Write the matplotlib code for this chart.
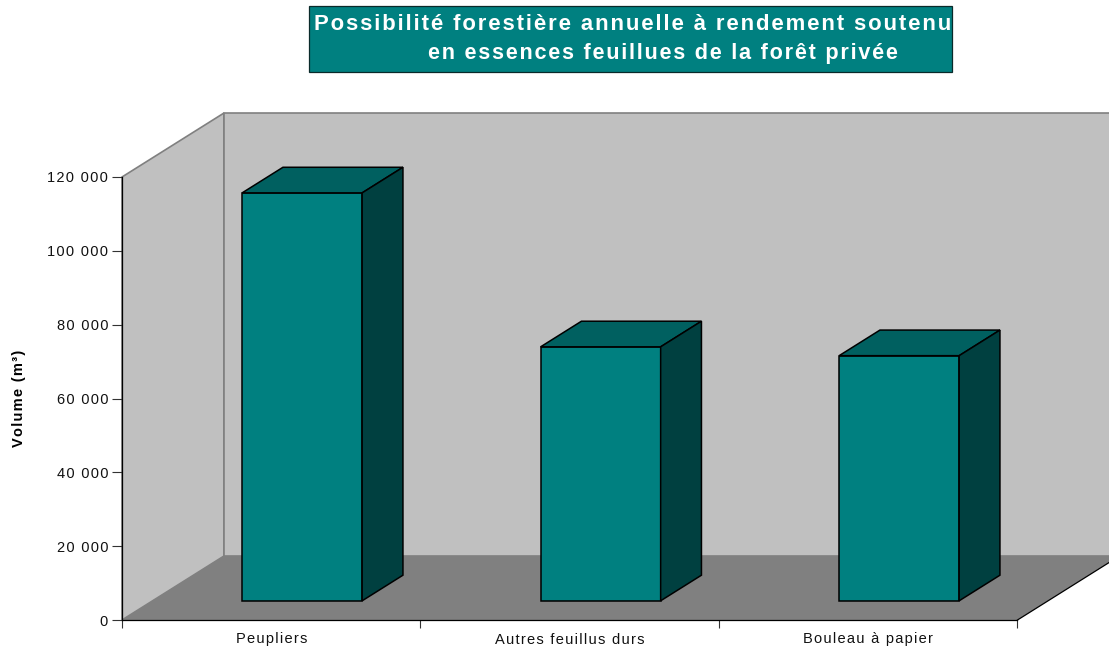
import matplotlib
matplotlib.use('Agg')
import matplotlib.pyplot as plt
from matplotlib.patches import Polygon, Rectangle

plt.rcParams['font.family'] = ['Liberation Sans', 'DejaVu Sans']

categories = ['Peupliers', 'Autres feuillus durs', 'Bouleau à papier']
volumes = [110500, 68800, 66400]
y_ticks = [0, 20000, 40000, 60000, 80000, 100000, 120000]
y_labels = ['0', '20 000', '40 000', '60 000', '80 000', '100 000', '120 000']
title1 = 'Possibilité forestière annuelle à rendement soutenu'
title2 = 'en essences feuillues de la forêt privée'
y_title = 'Volume (m³)'


# the original has wide letter spacing, hair spaces are the closest thing
def spaced(s):
    return '\u200a'.join(s)


W, H = 1109, 649
fig = plt.figure(figsize=(W / 100, H / 100), dpi=100)
ax = fig.add_axes([122 / W, (H - 620) / H, 895.5 / W, 443 / H])
ax.set_xlim(0, 3)
ax.set_ylim(0, 120000)

# oblique depth of the fake 3d box, in data units
dx = 102 / (895.5 / 3)
dy = 64 / 443 * 120000
ymax = 120000
xmax = 3


def poly(pts, fc, ec='none', lw=0, z=1):
    ax.add_patch(Polygon(pts, closed=True, fc=fc, ec=ec, lw=lw, zorder=z,
                         clip_on=False, joinstyle='miter'))


# walls and floor
poly([(0, 0), (dx, dy), (dx, ymax + dy), (0, ymax)], '#c0c0c0', '#808080', 1.2)
poly([(dx, dy), (xmax + dx, dy), (xmax + dx, ymax + dy), (dx, ymax + dy)], '#c0c0c0', '#808080', 1.2)
poly([(0, 0), (xmax, 0), (xmax + dx, dy), (dx, dy)], '#808080')
ax.plot([xmax, xmax + dx], [0, dy], color='black', lw=0.9, clip_on=False, zorder=2)

# bars
bw = 0.402
d0 = 0.3
d1 = 0.7
for i, v in enumerate(volumes):
    x0 = i + 0.3 + d0 * dx
    x1 = x0 + bw
    y0 = d0 * dy
    y1 = y0 + v
    sx = (d1 - d0) * dx
    sy = (d1 - d0) * dy
    poly([(x0, y0), (x1, y0), (x1, y1), (x0, y1)], '#008080', 'black', 1.1, 4)
    poly([(x0, y1), (x1, y1), (x1 + sx, y1 + sy), (x0 + sx, y1 + sy)], '#006060', 'black', 1.1, 4)
    poly([(x1, y0), (x1 + sx, y0 + sy), (x1 + sx, y1 + sy), (x1, y1)], '#004040', 'black', 1.1, 4)

# axes
for s in ['top', 'right']:
    ax.spines[s].set_visible(False)
ax.patch.set_visible(False)
for s in ['left', 'bottom']:
    ax.spines[s].set_linewidth(0.9)
    ax.spines[s].set_zorder(3)
ax.set_yticks(y_ticks)
ax.set_yticklabels([spaced(t) for t in y_labels], fontsize=10.5, color='#111111')
ax.tick_params(axis='y', length=7, width=0.8, pad=3, color='#333333')
ax.set_xticks([0, 1, 2, 3])
ax.set_xticklabels([])
ax.tick_params(axis='x', length=6, width=0.8, color='#333333')
ax.set_xticks([0.5, 1.5, 2.5], [spaced(c) for c in categories], minor=True, fontsize=10.5, color='#111111')
ax.tick_params(axis='x', which='minor', length=0, pad=9)
fig.text(19 / W, 1 - 398 / H, spaced(y_title), rotation=90, fontsize=10.5, fontweight='bold',
         ha='center', va='center')

# title box
fig.add_artist(Rectangle((309 / W, 1 - 71.5 / H), 643 / W, 65 / H, transform=fig.transFigure,
                         fc='#008080', ec='#0a2a2a', lw=0.9))
fig.text(314 / W, 1 - 25 / H, spaced(title1), color='white', fontsize=15.9, fontweight='bold', ha='left', va='center')
fig.text(428 / W, 1 - 53 / H, spaced(title2), color='white', fontsize=15.6, fontweight='bold', ha='left', va='center')

fig.savefig('out.png', dpi=100)
